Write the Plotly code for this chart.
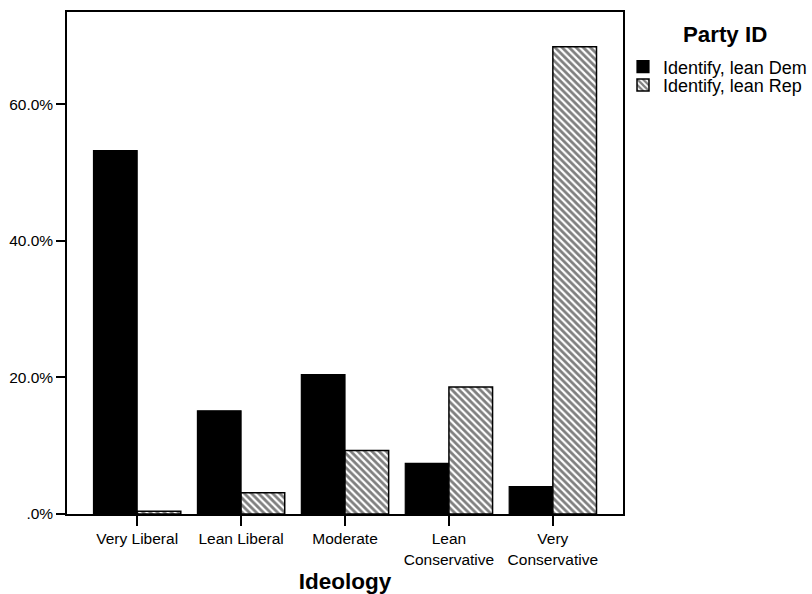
import plotly.graph_objects as go

categories = ["Very Liberal", "Lean Liberal", "Moderate", "Lean<br>Conservative", "Very<br>Conservative"]
dem_values = [53.2, 15.1, 20.4, 7.4, 4.0]
rep_values = [0.4, 3.1, 9.3, 18.6, 68.4]
y_tick_vals = [0, 20, 40, 60]
y_tick_text = [".0%", "20.0%", "40.0%", "60.0%"]

FONT = "Arial, Liberation Sans, sans-serif"

fig = go.Figure()
fig.add_trace(go.Bar(
    x=categories, y=dem_values, name="Identify, lean Dem",
    marker=dict(color="black", line=dict(color="black", width=1.2)),
    legend="legend",
))
fig.add_trace(go.Bar(
    x=categories, y=rep_values, name="Identify, lean Rep",
    marker=dict(color="white", line=dict(color="black", width=1.5),
                pattern=dict(shape="\\", fgcolor="black", bgcolor="white",
                             size=5, solidity=0.55)),
    legend="legend2",
))

fig.update_layout(
    width=812, height=594,
    margin=dict(l=67, r=189, t=12, b=80, autoexpand=False),
    paper_bgcolor="white", plot_bgcolor="white",
    font=dict(family=FONT, size=15.5, color="black"),
    barmode="group", bargap=0.16, bargroupgap=0,
    showlegend=True,
    legend=dict(x=1.0, y=0.8905, xanchor="left", yanchor="middle",
                font=dict(size=18), bgcolor="rgba(0,0,0,0)", borderwidth=0),
    legend2=dict(x=1.0, y=0.854, xanchor="left", yanchor="middle",
                 font=dict(size=18), bgcolor="rgba(0,0,0,0)", borderwidth=0),
    annotations=[dict(text="<b>Party ID</b>", x=1.1835, y=0.9556, xref="paper", yref="paper",
                      xanchor="center", yanchor="middle", showarrow=False,
                      font=dict(size=22.3, family=FONT))],
)
fig.update_xaxes(
    range=[-0.675, 4.675], showgrid=False, zeroline=False, automargin=False,
    showline=True, linecolor="black", linewidth=1.5, mirror=True,
    ticks="outside", ticklen=10, tickwidth=1.5, tickcolor="black",
    tickfont=dict(size=15.5),
    title=dict(text="<b>Ideology</b>", font=dict(size=22.5), standoff=20),
)
fig.update_yaxes(
    range=[0, 73.5], showgrid=False, zeroline=False, automargin=False,
    showline=True, linecolor="black", linewidth=1.5, mirror=True,
    ticks="outside", ticklen=9, tickwidth=1.5, tickcolor="black",
    tickvals=y_tick_vals, ticktext=y_tick_text, tickfont=dict(size=15.5),
)

fig.write_html("out.html", config={"displayModeBar": False},
               post_script="document.body.style.margin='0';document.body.style.padding='0';")
